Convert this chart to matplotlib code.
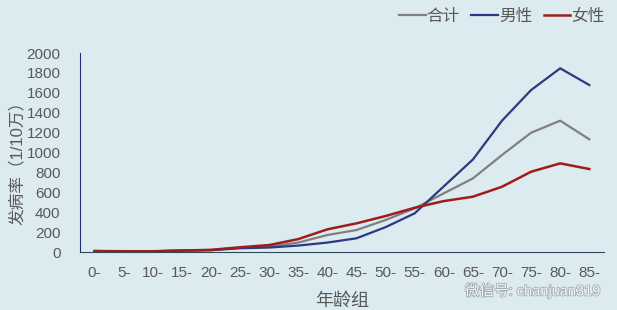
import matplotlib.pyplot as plt
import matplotlib.patheffects as pe
import numpy as np

plt.rcParams['font.family'] = ['Liberation Sans', 'Noto Sans CJK SC']

groups = ['0-', '5-', '10-', '15-', '20-', '25-', '30-', '35-', '40-', '45-',
          '50-', '55-', '60-', '65-', '70-', '75-', '80-', '85-']
total = [10, 8, 8, 15, 20, 42, 55, 95, 171, 221, 322, 439, 590, 740, 975, 1199, 1320, 1133]
male = [10, 8, 8, 14, 18, 38, 45, 65, 95, 138, 250, 389, 660, 930, 1320, 1628, 1846, 1678]
female = [10, 8, 8, 15, 22, 48, 70, 130, 228, 288, 362, 445, 512, 556, 656, 807, 891, 834]

bg = '#dcebf0'
txt = '#595959'

fig = plt.figure(figsize=(6.17, 3.10), dpi=100, facecolor=bg)
ax = fig.add_axes([0.1297, 0.187, 0.849, 0.642], facecolor=bg)

x = np.arange(len(groups))
ax.plot(x, total, color='#808080', lw=1.6, label='合计')
ax.plot(x, male, color='#2b3a80', lw=1.6, label='男性')
ax.plot(x, female, color='#a01c1c', lw=1.8, label='女性')

ax.set_xlim(-0.5, 17.5)
ax.set_ylim(0, 2000)
ax.set_yticks(range(0, 2001, 200))
ax.set_xticks(x)
ax.set_xticklabels(groups)
ax.tick_params(length=0, labelsize=11, labelcolor=txt)
ax.tick_params(axis='y', pad=14)
ax.tick_params(axis='x', pad=10)

for s in ['top', 'right']:
    ax.spines[s].set_visible(False)
ax.spines['left'].set_color('#1f2f7a')
ax.spines['bottom'].set_color('#2e4a5a')

ax.set_ylabel('发病率（1/10万）', fontsize=12, color=txt)
ax.yaxis.set_label_coords(-0.106, 0.47)
ax.set_xlabel('年龄组', fontsize=13, color=txt, labelpad=9)

ax.legend(loc='upper right', bbox_to_anchor=(1.03, 1.3), ncol=3, frameon=False,
          fontsize=12, labelcolor=txt, handlelength=1.6, handletextpad=0.05,
          columnspacing=0.7)

fig.text(0.974, 0.062, '微信号: chanjuan319', ha='right', va='center', fontsize=10.5,
         color='white', alpha=0.9,
         path_effects=[pe.withStroke(linewidth=1.2, foreground='#9aa5aa')])

fig.savefig('out.png', dpi=100, facecolor=bg)
